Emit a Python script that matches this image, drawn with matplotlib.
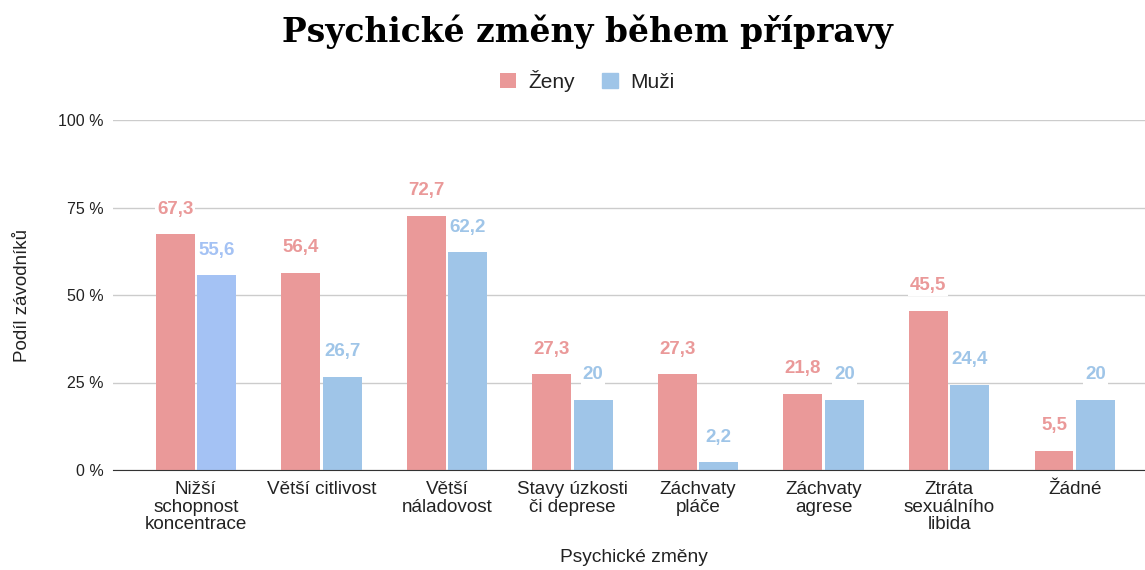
import numpy as np
import matplotlib.pyplot as plt

# data
categories = ['Nižší\nschopnost\nkoncentrace', 'Větší citlivost', 'Větší\nnáladovost',
              'Stavy úzkosti\nči deprese', 'Záchvaty\npláče', 'Záchvaty\nagrese',
              'Ztráta\nsexuálního\nlibida', 'Žádné']
zeny = [67.3, 56.4, 72.7, 27.3, 27.3, 21.8, 45.5, 5.5]
muzi = [55.6, 26.7, 62.2, 20, 2.2, 20, 24.4, 20]
yticks = [0, 25, 50, 75, 100]

PINK = '#ea9999'
BLUE = '#9fc5e8'
BLUE_FIRST = '#a4c2f4'

plt.rcParams['font.family'] = ['Liberation Sans', 'DejaVu Sans']

fig = plt.figure(figsize=(11.45, 5.7), dpi=100)
ax = fig.add_axes([113 / 1145, 100 / 570, (1145 - 113) / 1145, 350 / 570])

x = np.arange(len(categories))
w = 0.31
off = 0.165
blue_cols = [BLUE_FIRST] + [BLUE] * (len(muzi) - 1)
b1 = ax.bar(x - off, zeny, w, color=PINK, label='Ženy', zorder=3)
b2 = ax.bar(x + off, muzi, w, color=blue_cols, label='Muži', zorder=3)

def fmt(v):
    return ('%g' % v).replace('.', ',')

for bars, vals, cols in [(b1, zeny, [PINK] * len(zeny)), (b2, muzi, blue_cols)]:
    for rect, v, c in zip(bars, vals, cols):
        ax.annotate(fmt(v), (rect.get_x() + rect.get_width() / 2, v),
                    xytext=(0, 12), textcoords='offset points',
                    ha='center', va='bottom', color=c, fontsize=13.5,
                    fontweight='bold', zorder=4,
                    bbox=dict(boxstyle='square,pad=0.1', fc='white', ec='none'))

ax.set_xlim(-0.66, 7.56)
ax.set_ylim(0, 100)
ax.set_yticks(yticks)
ax.set_yticklabels(['%d %%' % t for t in yticks], fontsize=11.5, color='#222222')
ax.set_xticks(x)
ax.set_xticklabels(categories, fontsize=13.6, color='#222222', linespacing=1.05)
ax.tick_params(axis='both', length=0)
ax.tick_params(axis='x', pad=8)
ax.tick_params(axis='y', pad=7)
ax.grid(axis='y', color='#cccccc', linewidth=1, zorder=0)
for s in ['top', 'right', 'left']:
    ax.spines[s].set_visible(False)
ax.spines['bottom'].set_color('#333333')
ax.spines['bottom'].set_zorder(5)

ax.set_ylabel('Podíl závodníků', fontsize=13.5, color='#222222')
ax.yaxis.set_label_coords(-0.079, 0.5)
ax.set_xlabel('Psychické změny', fontsize=13.8, color='#222222', va='center')
ax.xaxis.set_label_coords((634 - 113) / (1145 - 113), -87 / 350)

fig.text(0.513, 0.945, 'Psychické změny během přípravy', ha='center', va='center',
         fontsize=23.7, fontweight='bold', family=['DejaVu Serif'])
leg = fig.legend(handles=[b1, b2], labels=['Ženy', 'Muži'], loc='center',
                 bbox_to_anchor=(0.513, 0.858), ncol=2, frameon=False,
                 fontsize=15, handlelength=0.75, handleheight=0.75,
                 handletextpad=0.6, columnspacing=1.3)
leg.legend_handles[1].set_color(BLUE)
for t in leg.get_texts():
    t.set_color('#222222')

fig.savefig('out.png', dpi=100)
